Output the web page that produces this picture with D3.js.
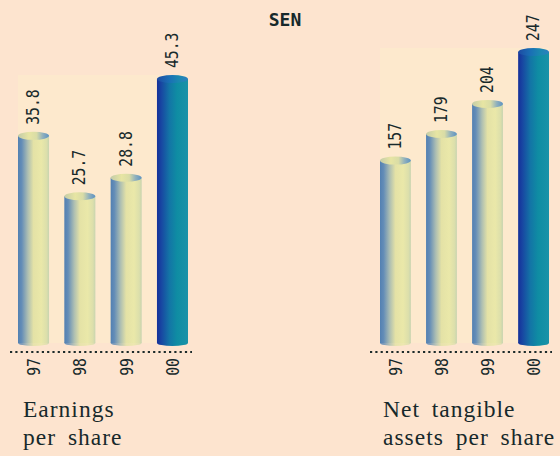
<!DOCTYPE html>
<html><head><meta charset="utf-8">
<script src="https://cdn.jsdelivr.net/npm/d3@7"></script>
<style>html,body{margin:0;padding:0;background:#fde4cf;}svg{display:block;}</style>
</head><body>
<script>
const title = "SEN";
const years = ["97","98","99","00"];
const earnings = [35.8, 25.7, 28.8, 45.3];
const earningsLabels = ["35.8","25.7","28.8","45.3"];
const nta = [157, 179, 204, 247];
const ntaLabels = ["157","179","204","247"];
const earningsTitle = ["Earnings","per share"];
const ntaTitle = ["Net tangible","assets per share"];

const W = 560, H = 456;
const svg = d3.select("body").append("svg").attr("width", W).attr("height", H);
svg.append("rect").attr("width", W).attr("height", H).attr("fill", "#fde4cf");

const defs = svg.append("defs");
function grad(id, stops){
  const g = defs.append("linearGradient").attr("id", id).attr("x1","0%").attr("x2","100%").attr("y1","0%").attr("y2","0%");
  stops.forEach(s => g.append("stop").attr("offset", s[0]).attr("stop-color", s[1]));
}
grad("gYel", [["0%","#5280b2"],["12%","#648db7"],["32%","#aebfb2"],["50%","#e4e2a6"],["75%","#eae8a9"],["92%","#dcdfab"],["100%","#c8d4b0"]]);
grad("gYelTop", [["0%","#c4cca8"],["35%","#e7e5a3"],["60%","#d9dca6"],["80%","#8fb0bd"],["100%","#5d92c2"]]);
grad("gBlue", [["0%","#15309a"],["15%","#1848a2"],["40%","#1375a6"],["65%","#0f8da3"],["100%","#1a92a8"]]);
grad("gBlueTop", [["0%","#1d4aa3"],["40%","#1a6fb5"],["70%","#1a88b0"],["100%","#2d7fbf"]]);

const textCol = "#17292b";

svg.append("text").attr("x", 285).attr("y", 26).attr("text-anchor","middle")
  .attr("font-family","DejaVu Sans Mono").attr("font-weight","bold").attr("font-size",18)
  .attr("fill", textCol).text(title);

const baseY = 350, barBottom = 343, ry = 4;

function drawChart(cfg){
  const g = svg.append("g");
  const x = d3.scaleBand().domain(years).range(cfg.xr).paddingInner(0.33).paddingOuter(0);
  const y = d3.scaleLinear().domain([0, d3.max(cfg.values)]).range([baseY, cfg.top]);
  const bw = x.bandwidth();
  g.append("rect").attr("x", cfg.xr[0]).attr("y", y(d3.max(cfg.values)) - ry)
    .attr("width", cfg.xr[1]-cfg.xr[0]).attr("height", barBottom - y(d3.max(cfg.values)) + ry)
    .attr("fill", "#fde9cd");
  const data = years.map((yr,i)=>({yr, v:cfg.values[i], lab:cfg.labels[i], last: i===years.length-1}));
  const bars = g.selectAll("g.bar").data(data).join("g").attr("class","bar");
  bars.append("ellipse").attr("cx", d=>x(d.yr)+bw/2).attr("cy", barBottom).attr("rx", bw/2).attr("ry", 3)
    .attr("fill", d=>d.last?"url(#gBlue)":"url(#gYel)").attr("opacity", d=>d.last?1:0.85);
  bars.append("rect").attr("x", d=>x(d.yr)).attr("y", d=>y(d.v)).attr("width", bw)
    .attr("height", d=>barBottom - y(d.v)).attr("fill", d=>d.last?"url(#gBlue)":"url(#gYel)");
  bars.append("ellipse").attr("cx", d=>x(d.yr)+bw/2).attr("cy", d=>y(d.v)).attr("rx", bw/2).attr("ry", ry)
    .attr("fill", d=>d.last?"url(#gBlueTop)":"url(#gYelTop)");
  bars.append("text")
    .attr("transform", d=>`translate(${x(d.yr)+bw/2 - 1},${y(d.v) - ry - 7}) rotate(-90) scale(0.82,1)`)
    .attr("dy","0.36em").attr("text-anchor","start")
    .attr("font-family","DejaVu Sans Mono").attr("font-size",18).attr("fill",textCol)
    .text(d=>d.lab);
  g.append("line").attr("x1", cfg.axis[0]).attr("x2", cfg.axis[1]).attr("y1", 352).attr("y2", 352)
    .attr("stroke", "#1d2b2b").attr("stroke-width", 2.2).attr("stroke-dasharray","2.2,3.1");
  g.selectAll("text.tick").data(years).join("text").attr("class","tick")
    .attr("transform", d=>`translate(${x(d)+bw/2},358) rotate(-90) scale(0.82,1)`)
    .attr("dy","0.36em").attr("text-anchor","end")
    .attr("font-family","DejaVu Sans Mono").attr("font-size",18).attr("fill",textCol)
    .text(d=>d);
  const t = g.append("text").attr("font-family","Liberation Serif").attr("font-size",23.5)
    .attr("letter-spacing", 1).attr("word-spacing", 5).attr("fill", textCol);
  cfg.title.forEach((s,i)=>t.append("tspan").attr("x", cfg.tx).attr("y", 417 + i*28).text(s));
}

drawChart({values: earnings, labels: earningsLabels, xr:[18,188], top:79, axis:[10,192], title: earningsTitle, tx: 23});
drawChart({values: nta, labels: ntaLabels, xr:[380,549], top:52, axis:[370,552], title: ntaTitle, tx: 383});
</script>
</body></html>
